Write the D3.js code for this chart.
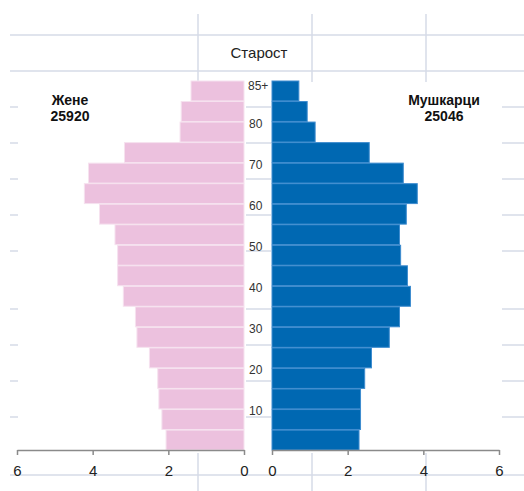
<!DOCTYPE html>
<html>
<head>
<meta charset="utf-8">
<script src="https://cdn.jsdelivr.net/npm/d3@7"></script>
<style>
  html, body { margin: 0; padding: 0; background: #fff; }
  svg text { font-family: "Liberation Sans", Arial, sans-serif; }
</style>
</head>
<body>
<div id="chart"></div>
<script>
// age groups, top to bottom
const AGE_GROUPS = ["85+", "80-84", "75-79", "70-74", "65-69", "60-64", "55-59", "50-54", "45-49",
                    "40-44", "35-39", "30-34", "25-29", "20-24", "15-19", "10-14", "5-9", "0-4"];
// share of population (%)
const WOMEN = [1.40, 1.66, 1.69, 3.16, 4.11, 4.22, 3.82, 3.41, 3.34,
               3.34, 3.19, 2.87, 2.83, 2.50, 2.28, 2.25, 2.17, 2.06];
const MEN = [0.71, 0.93, 1.14, 2.57, 3.47, 3.84, 3.55, 3.37, 3.40,
             3.58, 3.66, 3.37, 3.10, 2.63, 2.45, 2.34, 2.34, 2.30];
const AGE_TICKS = [10, 20, 30, 40, 50, 60, 70, 80];
const X_TICKS = [0, 2, 4, 6];
const TITLE = "Старост";
const WOMEN_LABEL = ["Жене", "25920"];
const MEN_LABEL = ["Мушкарци", "25046"];

// background grid pieces (decoration behind the plot)
const GRID_H_FULL = [35, 71, 475];
const GRID_H_DASH = [107, 143, 179, 215, 251, 309, 345, 381, 417];
const GRID_V = [198, 312, 426];

const WIDTH = 524, HEIGHT = 491;
const PINK = "#ecc1de", BLUE = "#0068b2", GRID = "#d6dbe7";

const svg = d3.select("#chart").append("svg")
    .attr("width", WIDTH).attr("height", HEIGHT);

// grid
const grid = svg.append("g").attr("stroke", GRID).attr("stroke-width", 1.5);
grid.selectAll(".hfull").data(GRID_H_FULL).enter().append("line")
    .attr("x1", 10).attr("x2", WIDTH).attr("y1", d => d).attr("y2", d => d);
GRID_H_DASH.forEach(y => {
    [[10, 18], [246, 271], [502, WIDTH]].forEach(([a, b]) => {
        grid.append("line").attr("x1", a).attr("x2", b).attr("y1", y).attr("y2", y);
    });
});
grid.selectAll(".vtop").data(GRID_V).enter().append("line")
    .attr("x1", d => d).attr("x2", d => d).attr("y1", 14).attr("y2", 82);
grid.selectAll(".vbot").data(GRID_V).enter().append("line")
    .attr("x1", d => d).attr("x2", d => d).attr("y1", 453).attr("y2", HEIGHT);

// scales
const xLeft = d3.scaleLinear().domain([0, 6]).range([244, 17]);
const xRight = d3.scaleLinear().domain([0, 6]).range([272, 499]);
const y = d3.scaleBand().domain(AGE_GROUPS).range([81, 450]).paddingInner(0.03);
const yAge = d3.scaleLinear().domain([0, 90]).range([450, 81]);

// bars
svg.selectAll(".women").data(AGE_GROUPS).enter().append("rect")
    .attr("class", "women")
    .attr("x", (d, i) => xLeft(WOMEN[i]))
    .attr("y", d => y(d))
    .attr("width", (d, i) => xLeft(0) - xLeft(WOMEN[i]))
    .attr("height", y.bandwidth())
    .attr("fill", PINK)
    .attr("stroke", "#f6e2ef").attr("stroke-width", 1);

svg.selectAll(".men").data(AGE_GROUPS).enter().append("rect")
    .attr("class", "men")
    .attr("x", xRight(0))
    .attr("y", d => y(d))
    .attr("width", (d, i) => xRight(MEN[i]) - xRight(0))
    .attr("height", y.bandwidth())
    .attr("fill", BLUE)
    .attr("stroke", "#3e8ccf").attr("stroke-width", 1);

// x axes
function styleAxis(g) {
    g.select(".domain").attr("stroke", "#8a8a8a").attr("stroke-width", 1.5);
    g.selectAll(".tick line").attr("stroke", "#8a8a8a").attr("stroke-width", 1.5);
    g.selectAll(".tick text")
        .attr("font-family", "Liberation Sans, Arial, sans-serif")
        .attr("font-size", 15).attr("fill", "#222").attr("dy", "0.95em");
}
svg.append("g").attr("transform", "translate(0,450)")
    .call(d3.axisBottom(xLeft).tickValues(X_TICKS).tickFormat(d3.format("d"))
        .tickSize(5).tickSizeOuter(0).tickPadding(7))
    .call(styleAxis);
svg.append("g").attr("transform", "translate(0,450)")
    .call(d3.axisBottom(xRight).tickValues(X_TICKS).tickFormat(d3.format("d"))
        .tickSize(5).tickSizeOuter(0).tickPadding(7))
    .call(styleAxis);

// age labels
svg.selectAll(".age").data(AGE_TICKS).enter().append("text")
    .attr("x", 249).attr("y", d => yAge(d) + 3)
    .attr("dominant-baseline", "middle")
    .attr("font-size", 12).attr("fill", "#333")
    .text(d => d);
svg.append("text")
    .attr("x", 248).attr("y", y(AGE_GROUPS[0]) + 6)
    .attr("dominant-baseline", "middle")
    .attr("font-size", 12).attr("fill", "#333")
    .text(AGE_GROUPS[0]);

// title and group labels
svg.append("text").attr("x", 259).attr("y", 54)
    .attr("text-anchor", "middle").attr("dominant-baseline", "middle")
    .attr("font-size", 15).attr("fill", "#222").text(TITLE);

function groupLabel(lines, cx) {
    svg.selectAll(null).data(lines).enter().append("text")
        .attr("x", cx).attr("y", (d, i) => 101 + i * 16)
        .attr("text-anchor", "middle").attr("dominant-baseline", "middle")
        .attr("font-size", 14).attr("font-weight", "bold").attr("fill", "#111")
        .text(d => d);
}
groupLabel(WOMEN_LABEL, 70);
groupLabel(MEN_LABEL, 444);
</script>
</body>
</html>
